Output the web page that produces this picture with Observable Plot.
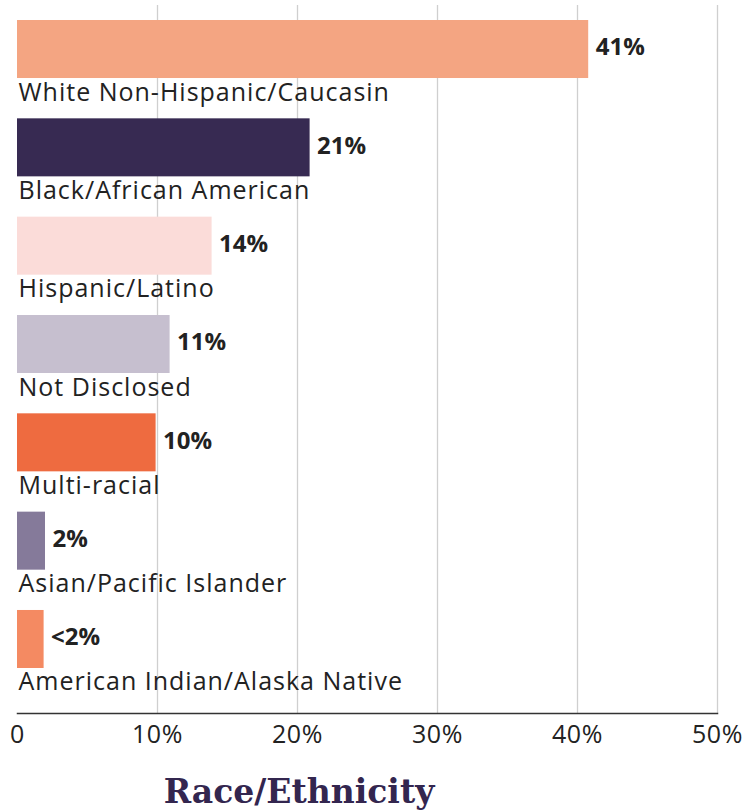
<!DOCTYPE html>
<html><head><meta charset="utf-8">
<script src="https://cdn.jsdelivr.net/npm/d3@7"></script>
<script src="https://cdn.jsdelivr.net/npm/@observablehq/plot@0.6"></script>
<style>
body{margin:0;background:#fff;}
#title{font-family:"DejaVu Serif",serif;font-weight:bold;font-size:33px;color:#33264F;width:598px;text-align:center;margin-top:20px;line-height:40px;}
.cat{letter-spacing:1px;}
.tk text{letter-spacing:0.6px;}
</style></head><body>
<div id="chart"></div>
<div id="title">Race/Ethnicity</div>
<script>
const categories = ["White Non-Hispanic/Caucasin","Black/African American","Hispanic/Latino","Not Disclosed","Multi-racial","Asian/Pacific Islander","American Indian/Alaska Native"];
const values = [40.8, 20.9, 13.9, 10.9, 9.9, 2, 1.9];
const valueLabels = ["41%","21%","14%","11%","10%","2%","<2%"];
const colors = ["#F4A582","#372A52","#FBDCD9","#C6BFCF","#EE6B40","#857A9A","#F48A62"];
const ticks = [0, 10, 20, 30, 40, 50];
const data = categories.map((c, i) => ({category: c, value: values[i], label: valueLabels[i], color: colors[i]}));
const chart = Plot.plot({
  width: 742, height: 752,
  marginLeft: 17, marginRight: 25, marginTop: 5, marginBottom: 39,
  x: {domain: [0, 50], label: null},
  y: {domain: categories, range: [20, 668], paddingInner: 0.41, paddingOuter: 0, axis: null, round: false},
  color: {type: "identity"},
  style: {fontFamily: "'Open Sans', sans-serif", background: "#fff"},
  marks: [
    Plot.ruleX(ticks.filter(t => t > 0), {stroke: "#cfcfcf", strokeWidth: 1.3}),
    Plot.barX(data, {x: "value", y: "category", fill: "color"}),
    Plot.text(data, {x: 0, y: "category", text: "category", textAnchor: "start", lineAnchor: "middle", dy: 43, dx: 1, fontSize: 25, fill: "#222", className: "cat"}),
    Plot.text(data, {x: "value", y: "category", text: "label", textAnchor: "start", dx: 7, dy: -2, fontSize: 24, fontWeight: "bold", fill: "#222"}),
    Plot.frame({anchor: "bottom", stroke: "#333", strokeWidth: 1.5}),
    Plot.axisX({ticks, tickSize: 0, tickPadding: 12, tickFormat: d => d === 0 ? "0" : d + "%", fontSize: 25, fill: "#222", label: null, className: "tk"})
  ]
});
document.getElementById("chart").appendChild(chart);
</script>
</body></html>
